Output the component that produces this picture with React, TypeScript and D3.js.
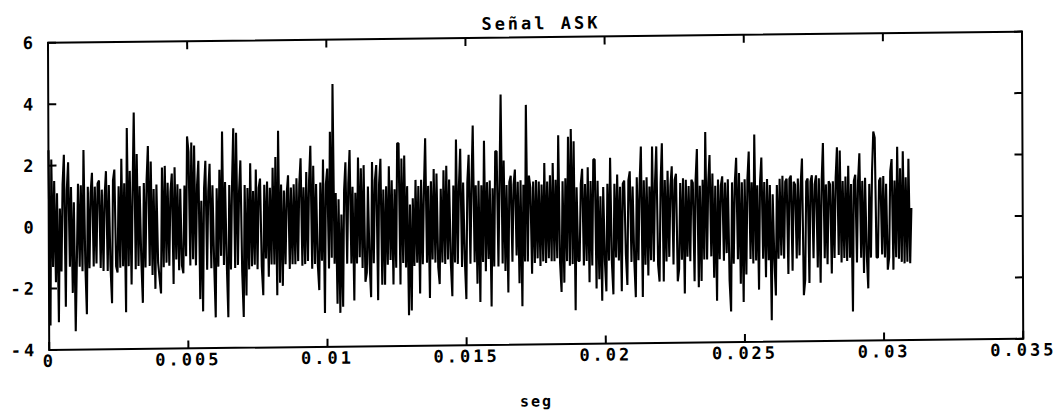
import React from "react";
import * as d3 from "d3";

// ---- data ----
const title = "Señal ASK";
const xLabel = "seg";
const xTicks = [0, 0.005, 0.01, 0.015, 0.02, 0.025, 0.03, 0.035];
const xTickLabels = ["0", "0.005", "0.01", "0.015", "0.02", "0.025", "0.03", "0.035"];
const yTicks = [-4, -2, 0, 2, 4, 6];
const yTickLabels = ["-4", "-2", "0", "2", "4", "6"];
const signalEnd = 0.031; // seconds, last sample
// signal samples, evenly spaced from 0 to signalEnd (read in groups of 10)
const signal = [
  2.5, -3.2, 2.2, -1.3, 1.5, -1.8, 1.1, -3.1, 0.6, -1.45,
  1.4, 2.35, -2.6, 1.2, 2.1, -1.3, 1.3, -2.15, 0.8, -3.4,
  -1.1, 1.4, -1.3, 1.35, -1.45, 2.5, -1.2, -2.85, 1.3, -1.35,
  1.1, 1.75, -1.3, 1.3, -1.2, 1.4, 1.5, -1.35, 1.2, -1.45,
  1.0, 1.8, -1.45, 1.35, -1.3, -2.5, 1.5, 1.85, -1.3, -1.5,
  1.3, -1.35, 2.2, -1.3, 1.4, -2.8, 3.2, -1.3, 1.8, -1.9,
  1.2, 3.7, -1.4, 2.35, -1.3, 1.3, -1.1, -2.5, 1.4, -1.35,
  1.5, 2.6, -1.3, 2.1, -1.6, 1.2, -2.05, 1.35, -1.2, -1.7,
  -2.2, 1.9, -1.35, 1.95, -1.2, 1.4, -1.3, 1.1, 1.7, -1.9,
  1.9, -1.1, 1.35, -1.45, 1.2, -1.3, -1.55, 1.3, -1.0, 2.9,
  2.4, -1.3, 2.7, -1.1, 2.6, -1.3, 1.3, 2.1, -2.4, 0.8,
  -2.8, 1.2, 2.1, -1.45, 1.1, 2.0, -1.4, 1.3, -1.2, -3.0,
  1.2, -1.35, 1.8, -1.0, 3.05, -1.3, 1.4, -1.2, -3.0, 1.3,
  -1.45, 1.35, 3.15, -1.4, 3.0, -1.3, 1.1, 2.1, -1.5, -3.0,
  1.3, -2.3, 1.2, -1.45, 2.0, -1.35, 1.1, -1.3, 1.8, -1.45,
  1.2, 1.5, -1.35, -2.3, 1.3, -1.1, 1.4, -1.7, 1.2, -1.3,
  1.85, -1.3, 2.2, -2.3, 3.05, -1.9, 1.3, -2.0, 1.1, -1.3,
  1.0, 1.6, -1.45, 1.2, -1.3, 1.3, -1.3, 1.5, -1.2, 1.3,
  2.15, -1.35, 1.2, -1.3, 1.7, -1.2, 1.4, 2.55, -1.45, 1.9,
  -1.3, 1.3, -1.3, -2.15, 1.35, -1.2, 2.1, -2.9, 1.3, 1.8,
  -1.45, 3.0, -1.1, 4.55, -1.3, 1.0, -2.6, 0.8, -2.9, 0.3,
  -2.7, 1.1, 2.0, -1.3, 1.3, 2.4, -1.3, 1.2, -2.5, 1.0,
  -1.3, 2.15, -1.1, 1.8, -1.45, 1.9, -1.9, -1.6, 1.2, -1.3,
  -2.4, 2.0, -1.3, 1.4, 1.9, -2.5, 1.3, 2.1, -2.0, 1.1,
  -2.0, 1.2, -1.35, 1.85, -1.2, 1.4, -2.0, 1.1, -1.45, 2.6,
  2.6, -2.0, 2.1, -1.3, 2.2, -1.45, 1.2, -3.0, 0.6, -2.85,
  0.8, -1.4, 1.4, -1.3, 1.2, -2.3, 1.4, -1.35, 1.1, 2.75,
  -1.3, 1.2, -2.45, 1.35, -1.2, 1.75, -1.3, 1.6, -1.45, -2.0,
  1.1, -1.3, 1.7, -1.35, 1.85, -1.2, 1.4, -1.3, -2.4, 1.2,
  -1.3, 2.7, -1.35, 1.2, 2.4, -1.45, 1.3, -1.2, -2.5, 1.3,
  2.2, -1.35, 1.3, 3.15, -1.3, 1.2, -2.0, 1.35, -2.6, 1.2,
  -1.3, 2.65, -1.6, 1.3, -1.2, 1.35, -2.75, 1.1, -1.45, 2.3,
  2.3, -1.45, 1.3, 4.15, -1.35, 2.0, -1.6, 1.2, -2.3, 1.3,
  1.5, -1.3, 1.2, 1.7, -1.1, 1.3, -2.0, 1.35, -2.75, 1.2,
  -1.3, 3.8, -1.3, 1.5, 1.1, -1.7, 1.3, -1.35, 1.35, -1.2,
  1.3, -1.45, 1.2, -1.3, 1.9, -1.35, 1.3, -1.2, 1.5, -1.3,
  1.9, -1.3, 1.35, -1.2, 2.8, -1.35, -2.3, 1.3, -2.0, 1.4,
  -1.3, 2.75, -1.45, 3.0, -1.4, 2.6, -2.9, 1.1, -1.3, -1.3,
  1.2, 1.7, -1.45, 1.2, -1.3, 1.75, -2.0, 1.3, -1.45, 2.0,
  2.0, -2.2, 1.3, -1.9, 0.8, -2.6, 1.1, -1.3, -2.3, 1.2,
  -1.3, 2.05, -1.35, -2.4, 1.2, -1.2, 1.5, -1.3, 1.1, -2.3,
  1.2, 1.3, -1.1, -2.1, 1.3, 1.6, -1.35, 1.1, -1.3, -2.5,
  1.4, -1.3, 1.2, 2.4, -2.5, 1.3, -1.45, 1.4, -1.8, 1.1,
  -1.3, 2.4, -1.35, 1.2, 2.4, -1.45, -2.0, 1.2, 2.5, -2.0,
  1.3, -1.35, 1.6, -1.2, 1.1, 1.75, -1.45, 1.3, 1.5, -2.0,
  -1.6, 1.2, -1.3, 1.35, -2.4, 1.3, -1.2, 1.1, -1.35, 1.3,
  1.2, -2.0, 1.3, 2.3, -2.2, 1.1, -2.0, 1.3, -1.3, 2.85,
  -1.3, 1.2, 2.1, -1.2, 1.5, -1.9, 1.1, -2.65, 1.3, -1.3,
  1.1, 1.4, -1.35, 1.2, -1.1, 1.3, -2.0, -3.0, 1.2, -1.45,
  1.2, 2.0, -1.3, 1.5, -2.1, 1.2, -2.7, 1.3, -1.8, 1.3,
  2.2, -1.3, 1.2, -1.45, 2.75, -1.35, 1.1, -2.3, 1.2, 2.0,
  -1.3, 1.2, -1.9, 1.3, -1.35, 1.1, -3.3, 0.8, -1.3, -2.5,
  1.1, -1.3, 1.3, -1.2, 1.4, -1.3, 1.2, 1.3, -1.8, 1.3,
  1.4, -1.7, 1.2, 1.1, -1.3, 1.3, -1.2, 1.1, 1.95, -2.5,
  -2.0, 1.2, 1.3, -2.1, 1.2, 1.4, -1.3, 1.1, 1.4, -1.6,
  1.3, -2.1, 1.2, 2.45, -1.3, 1.1, -1.5, 1.2, 1.1, -1.8,
  1.2, -1.3, 1.3, 2.3, -1.2, 2.2, -1.45, 1.2, -1.3, 1.35,
  -1.4, 1.7, -1.3, 1.1, -3.05, 1.2, 1.4, -1.45, 1.2, 2.1,
  -1.3, 1.2, -1.8, 1.3, -1.2, -2.3, 1.1, -1.3, 1.5, 2.8,
  2.6, -1.3, -1.3, 1.2, 1.3, -1.2, 1.35, -1.3, 1.1, -1.7,
  -1.3, 1.5, 1.9, -1.7, 1.2, -1.3, 2.3, -1.35, 1.6, -1.45,
  2.15, -1.5, 1.3, -1.45, 1.9, -1.5, 0.3,
];

const W = 1063;
const H = 414;
const left = 48, right = 1022, top = 42.8, bottom = 350;
const FONT = "'DejaVu Sans Mono', 'Liberation Mono', monospace";

export default function App() {
  const x = d3.scaleLinear().domain([0, 0.035]).range([left, right]);
  const y = d3.scaleLinear().domain([-4, 6]).range([bottom, top]);
  const n = signal.length;
  const pts: [number, number][] = signal.map((v, i) => [(i / (n - 1)) * signalEnd, v]);
  const line = d3.line<[number, number]>().x((d) => x(d[0])).y((d) => y(d[1]));
  // scan skew of the original print
  const skew = `matrix(1,-0.0115,0.004,1,${-0.004 * 43},${0.0115 * 48})`;
  const tickLen = 8;
  return (
    <svg width={W} height={H} style={{ position: "absolute", left: 0, top: 0, background: "#fff" }}>
      <rect x={0} y={0} width={W} height={H} fill="#fff" />
      <g transform={skew}>
        <path d={line(pts) || ""} fill="none" stroke="#000" strokeWidth={2.1} strokeLinejoin="bevel" />
        <rect x={left} y={top} width={right - left} height={bottom - top} fill="none" stroke="#000" strokeWidth={2} />
        {xTicks.map((t) => (
          <g key={"xt" + t}>
            <line x1={x(t)} x2={x(t)} y1={bottom} y2={bottom - tickLen} stroke="#000" strokeWidth={2} />
            <line x1={x(t)} x2={x(t)} y1={top} y2={top + tickLen} stroke="#000" strokeWidth={2} />
          </g>
        ))}
        {yTicks.map((t) => (
          <g key={"yt" + t}>
            <line x1={left} x2={left + tickLen} y1={y(t)} y2={y(t)} stroke="#000" strokeWidth={2} />
            <line x1={right} x2={right - tickLen} y1={y(t)} y2={y(t)} stroke="#000" strokeWidth={2} />
          </g>
        ))}
        {xTicks.map((t, i) => (
          <text key={"xl" + t} x={x(t)} y={bottom + 17} textAnchor="middle" fontFamily={FONT}
            fontWeight="bold" fontSize={17} letterSpacing={3} fill="#000">
            {xTickLabels[i]}
          </text>
        ))}
        {yTicks.map((t, i) => (
          <text key={"yl" + t} x={left - 12} y={y(t) + 6} textAnchor="end" fontFamily={FONT}
            fontWeight="bold" fontSize={17} letterSpacing={3} fill="#000">
            {yTickLabels[i]}
          </text>
        ))}
        <text x={(left + right) / 2 + 6} y={top - 8} textAnchor="middle" fontFamily={FONT}
          fontWeight="bold" fontSize={17} letterSpacing={3} fill="#000">
          {title}
        </text>
        <text x={(left + right) / 2} y={bottom + 62} textAnchor="middle" fontFamily={FONT}
          fontWeight="bold" fontSize={15} letterSpacing={2} fill="#000">
          {xLabel}
        </text>
      </g>
    </svg>
  );
}
